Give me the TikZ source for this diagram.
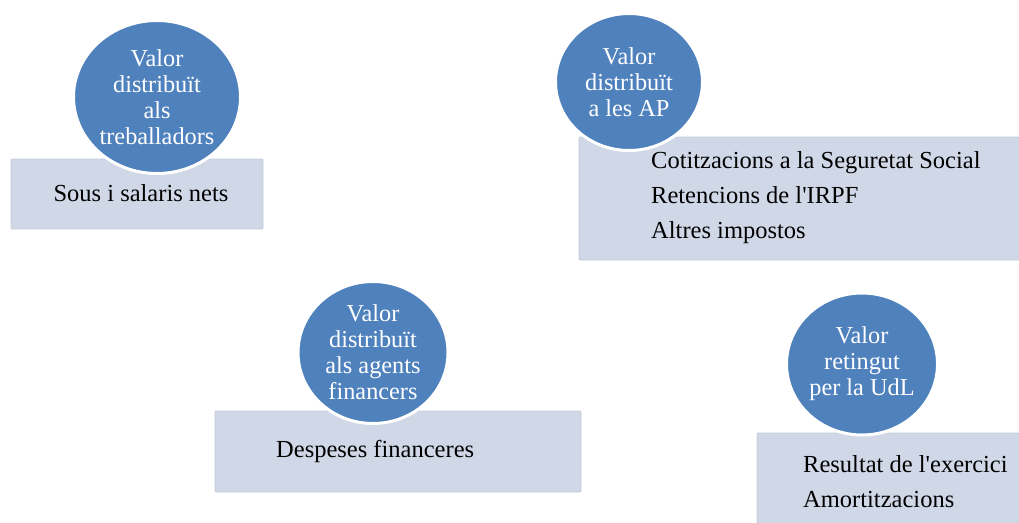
\documentclass[tikz,border=0pt]{standalone}
\usepackage{fontspec}
\setmainfont{Liberation Serif}
\usetikzlibrary{shapes.geometric}
\definecolor{circblue}{RGB}{79,129,189}
\definecolor{boxfill}{RGB}{208,216,232}
\definecolor{boxedge}{RGB}{196,204,220}
\tikzset{
  valcirc/.style={ellipse, fill=circblue, draw=white, line width=3pt, inner sep=0pt,
    text=white, align=center, font=\fontsize{24.3}{26}\selectfont},
  itembox/.style={rectangle, fill=boxfill, draw=boxedge, line width=0.8pt, inner sep=0pt, rounded corners=1pt},
  itemtext/.style={anchor=west, inner sep=0pt, align=left, text=black,
    font=\fontsize{24.5}{35}\selectfont},
}
\begin{document}
\begin{tikzpicture}[x=1pt,y=-1pt]
\clip (0,0) rectangle (1019,522);
\fill[white] (0,0) rectangle (1019,522);
% boxes
\node[itembox, minimum width=252pt, minimum height=70pt] (b1) at (137,194) {};
\node[itembox, minimum width=450pt, minimum height=123pt] (b2) at (804,198.5) {};
\node[itembox, minimum width=366pt, minimum height=81pt] (b3) at (398,451.5) {};
\node[itembox, minimum width=270pt, minimum height=100pt] (b4) at (892,483) {};
% box texts
\node[anchor=center, inner sep=0pt, font=\fontsize{24.5}{35}\selectfont] (t1) at (141,193) {Sous i salaris nets};
\node[itemtext] (t2) at (651,198) {Cotitzacions a la Seguretat Social\\Retencions de l\textquotesingle IRPF\\Altres impostos};
\node[itemtext] (t3) at (276,451) {Despeses financeres};
\node[itemtext] (t4) at (803,482) {Resultat de l\textquotesingle exercici\\Amortitzacions};
% circles
\node[valcirc, minimum width=167pt, minimum height=153pt] (c1) at (157,97) {Valor\\distribuït\\als\\treballadors};
\node[valcirc, minimum width=147pt, minimum height=137pt] (c2) at (629,82) {Valor\\distribuït\\a les AP};
\node[valcirc, minimum width=150pt, minimum height=142pt] (c3) at (373,352.5) {Valor\\distribuït\\als agents\\financers};
\node[valcirc, minimum width=151pt, minimum height=142pt] (c4) at (862,364) {Valor\\retingut\\per la UdL};
\end{tikzpicture}
\end{document}
